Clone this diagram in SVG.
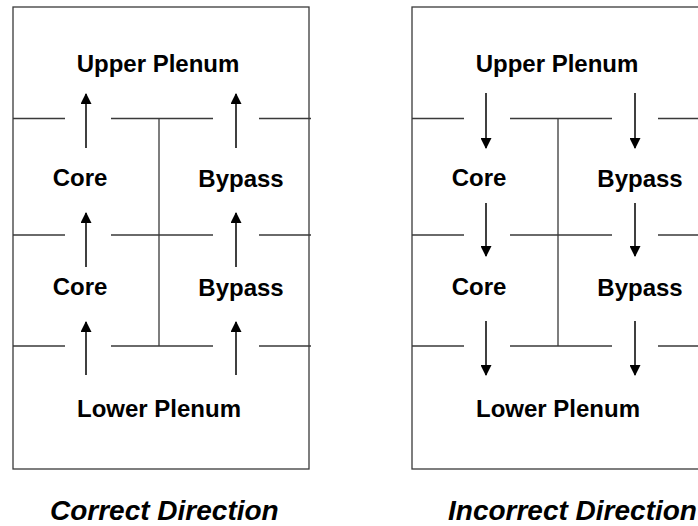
<svg xmlns="http://www.w3.org/2000/svg" width="698" height="526" viewBox="0 0 698 526">
  <style>
    .wall { fill: none; stroke: #3a3a3a; stroke-width: 1.3; }
    .flow { stroke: #000; stroke-width: 1.5; fill: none; marker-end: url(#head); }
    .lbl { font-family: "Liberation Sans", Arial, sans-serif; font-weight: bold; font-size: 24px; fill: #000; text-anchor: middle; }
    .cap { font-family: "Liberation Sans", Arial, sans-serif; font-weight: bold; font-style: italic; font-size: 28px; fill: #000; }
  </style>
  <defs>
    <marker id="head" viewBox="0 0 11 11" markerWidth="11" markerHeight="11" refX="10" refY="5.5" orient="auto" markerUnits="userSpaceOnUse">
      <path d="M0,0 L11,5.5 L0,11 Z" fill="#000"/>
    </marker>
    <!-- vessel outline, baffle plates and partition shared by both panels -->
    <g id="vessel">
      <rect class="wall" x="13" y="7" width="296" height="462"/>
      <path class="wall" d="M13,118.5 H65 M111,118.5 H213 M259,118.5 H311
                            M13,235 H65 M111,235 H213 M259,235 H311
                            M13,346 H65 M111,346 H213 M259,346 H311
                            M159,118.5 V346"/>
    </g>
  </defs>

  <!-- left panel: upward flow -->
  <g id="panel-correct">
    <use href="#vessel"/>
    <g id="upper-plenum-a"><text class="lbl" x="158" y="72">Upper Plenum</text></g>
    <g id="core-top-a"><text class="lbl" x="80" y="186">Core</text></g>
    <g id="bypass-top-a"><text class="lbl" x="241" y="187">Bypass</text></g>
    <g id="core-bottom-a"><text class="lbl" x="80" y="295">Core</text></g>
    <g id="bypass-bottom-a"><text class="lbl" x="241" y="296">Bypass</text></g>
    <g id="lower-plenum-a"><text class="lbl" x="159" y="417">Lower Plenum</text></g>
    <text class="cap" x="50" y="520">Correct Direction</text>
  </g>

  <!-- right panel: downward flow -->
  <g id="panel-incorrect">
    <use href="#vessel" x="399"/>
    <g id="upper-plenum-b"><text class="lbl" x="557" y="72">Upper Plenum</text></g>
    <g id="core-top-b"><text class="lbl" x="479" y="186">Core</text></g>
    <g id="bypass-top-b"><text class="lbl" x="640" y="187">Bypass</text></g>
    <g id="core-bottom-b"><text class="lbl" x="479" y="295">Core</text></g>
    <g id="bypass-bottom-b"><text class="lbl" x="640" y="296">Bypass</text></g>
    <g id="lower-plenum-b"><text class="lbl" x="558" y="417">Lower Plenum</text></g>
    <text class="cap" x="448" y="520">Incorrect Direction</text>
  </g>

  <g id="connectors">
    <!-- upward flow arrows -->
    <line class="flow" x1="86" y1="148" x2="86" y2="94"/>
    <line class="flow" x1="236" y1="148" x2="236" y2="94"/>
    <line class="flow" x1="86" y1="267" x2="86" y2="213"/>
    <line class="flow" x1="236" y1="267" x2="236" y2="213"/>
    <line class="flow" x1="86" y1="375" x2="86" y2="322"/>
    <line class="flow" x1="236" y1="375" x2="236" y2="322"/>
    <!-- downward flow arrows -->
    <line class="flow" x1="486" y1="93" x2="486" y2="148"/>
    <line class="flow" x1="635" y1="93" x2="635" y2="148"/>
    <line class="flow" x1="486" y1="203" x2="486" y2="256"/>
    <line class="flow" x1="635" y1="203" x2="635" y2="256"/>
    <line class="flow" x1="486" y1="321" x2="486" y2="375"/>
    <line class="flow" x1="635" y1="321" x2="635" y2="375"/>
  </g>
</svg>
